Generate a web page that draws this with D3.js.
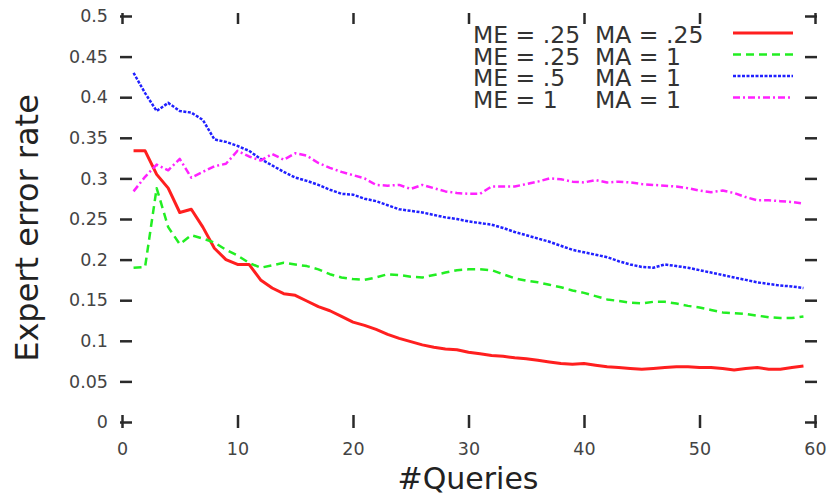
<!DOCTYPE html>
<html>
<head>
<meta charset="utf-8">
<script src="https://cdn.jsdelivr.net/npm/d3@7"></script>
<style>
  html, body { margin: 0; padding: 0; background: #fff; }
  svg { display: block; font-family: "DejaVu Sans", sans-serif; }
</style>
</head>
<body>
<div id="chart"></div>
<script>
// x = number of queries (1..59)
const queries = d3.range(1, 60);

const redVals = [0.334, 0.334, 0.305, 0.288, 0.258, 0.262, 0.240, 0.214, 0.200, 0.194,
  0.194, 0.175, 0.165, 0.158, 0.156, 0.149, 0.142, 0.137, 0.130, 0.123,
  0.119, 0.114, 0.108, 0.103, 0.099, 0.095, 0.092, 0.090, 0.089, 0.086,
  0.084, 0.082, 0.081, 0.079, 0.078, 0.076, 0.074, 0.072, 0.071, 0.072,
  0.070, 0.068, 0.067, 0.066, 0.065, 0.066, 0.067, 0.068, 0.068, 0.067,
  0.067, 0.066, 0.064, 0.066, 0.067, 0.065, 0.065, 0.067, 0.069];

const greenVals = [0.190, 0.191, 0.288, 0.240, 0.219, 0.230, 0.226, 0.221, 0.212, 0.205,
  0.196, 0.190, 0.193, 0.196, 0.194, 0.192, 0.188, 0.182, 0.178, 0.176,
  0.175, 0.178, 0.182, 0.181, 0.179, 0.178, 0.181, 0.184, 0.187, 0.188,
  0.188, 0.187, 0.182, 0.177, 0.174, 0.172, 0.169, 0.166, 0.162, 0.159,
  0.155, 0.151, 0.149, 0.147, 0.146, 0.148, 0.148, 0.146, 0.143, 0.141,
  0.138, 0.135, 0.134, 0.133, 0.131, 0.129, 0.128, 0.128, 0.130];

const blueVals = [0.430, 0.405, 0.383, 0.393, 0.383, 0.381, 0.372, 0.348, 0.345, 0.340,
  0.334, 0.324, 0.316, 0.308, 0.301, 0.297, 0.292, 0.286, 0.281, 0.280,
  0.275, 0.272, 0.267, 0.262, 0.260, 0.258, 0.255, 0.252, 0.250, 0.247,
  0.245, 0.243, 0.239, 0.234, 0.230, 0.226, 0.222, 0.217, 0.212, 0.209,
  0.206, 0.203, 0.198, 0.194, 0.191, 0.190, 0.194, 0.192, 0.190, 0.187,
  0.184, 0.181, 0.178, 0.175, 0.172, 0.170, 0.168, 0.167, 0.165];

const magentaVals = [0.284, 0.302, 0.317, 0.310, 0.324, 0.301, 0.308, 0.315, 0.318, 0.334,
  0.327, 0.322, 0.330, 0.323, 0.331, 0.328, 0.319, 0.313, 0.308, 0.304,
  0.300, 0.292, 0.291, 0.292, 0.287, 0.292, 0.288, 0.284, 0.282, 0.281,
  0.281, 0.290, 0.290, 0.290, 0.293, 0.296, 0.300, 0.299, 0.296, 0.295,
  0.298, 0.295, 0.296, 0.295, 0.293, 0.292, 0.291, 0.290, 0.288, 0.285,
  0.283, 0.285, 0.282, 0.277, 0.273, 0.273, 0.272, 0.271, 0.269];

const meLabels = ['ME = .25', 'ME = .25', 'ME = .5', 'ME = 1'];
const maLabels = ['MA = .25', 'MA = 1', 'MA = 1', 'MA = 1'];

const xTicks = [0, 10, 20, 30, 40, 50, 60];
const yTicks = [0, 0.05, 0.1, 0.15, 0.2, 0.25, 0.3, 0.35, 0.4, 0.45, 0.5];

const series = [
  { values: redVals, color: '#ff1f1f', width: 3, dash: null },
  { values: greenVals, color: '#22ee22', width: 2.5, dash: '8,5' },
  { values: blueVals, color: '#2020ff', width: 2.5, dash: '3,1.5' },
  { values: magentaVals, color: '#ff22ff', width: 2.5, dash: '7,3,2,3' },
];

const width = 831, height = 498;

const svg = d3.select('#chart')
  .append('svg')
  .attr('width', width)
  .attr('height', height);

const x = d3.scaleLinear().domain([0, 60]).range([122, 815]);
const y = d3.scaleLinear().domain([0, 0.5]).range([422, 16]);

const fmtY = d => d === 0 ? '0' : String(d);

// gnuplot style: ticks only, no border line
const tickColor = '#2a2a2a';

const leftAxis = svg.append('g')
  .attr('transform', 'translate(120,0)')
  .call(d3.axisLeft(y).tickValues(yTicks).tickSize(-12).tickPadding(12).tickFormat(fmtY));

const rightAxis = svg.append('g')
  .attr('transform', 'translate(817,0)')
  .call(d3.axisRight(y).tickValues(yTicks).tickSize(-12).tickFormat(''));

const bottomAxis = svg.append('g')
  .attr('transform', 'translate(0,428)')
  .call(d3.axisBottom(x).tickValues(xTicks).tickSize(-13).tickPadding(15));

const topAxis = svg.append('g')
  .attr('transform', 'translate(0,13)')
  .call(d3.axisTop(x).tickValues(xTicks).tickSize(-11).tickFormat(''));

[leftAxis, rightAxis, bottomAxis, topAxis].forEach(g => {
  g.select('.domain').remove();
  g.selectAll('.tick line').attr('stroke', tickColor).attr('stroke-width', 2.5);
  g.selectAll('.tick text')
    .attr('fill', '#444')
    .attr('font-size', '17.5px')
    .attr('font-family', '"DejaVu Sans", sans-serif');
});

// lines
const line = d3.line()
  .x((d, i) => x(queries[i]))
  .y(d => y(d));

svg.append('g')
  .selectAll('path')
  .data(series)
  .join('path')
  .attr('fill', 'none')
  .attr('stroke', d => d.color)
  .attr('stroke-width', d => d.width)
  .attr('stroke-dasharray', d => d.dash)
  .attr('stroke-linejoin', 'round')
  .attr('d', d => line(d.values));

// legend
const rowY = i => 43 + i * 21.5;
const legend = svg.append('g')
  .attr('font-size', '23.5px')
  .attr('fill', '#333');

legend.selectAll('text.me')
  .data(meLabels)
  .join('text')
  .attr('class', 'me')
  .attr('x', 473)
  .attr('y', (d, i) => rowY(i))
  .text(d => d);

legend.selectAll('text.ma')
  .data(maLabels)
  .join('text')
  .attr('class', 'ma')
  .attr('x', 595)
  .attr('y', (d, i) => rowY(i))
  .text(d => d);

legend.selectAll('line')
  .data(series)
  .join('line')
  .attr('x1', 733)
  .attr('x2', 793)
  .attr('y1', (d, i) => rowY(i) - 10)
  .attr('y2', (d, i) => rowY(i) - 10)
  .attr('stroke', d => d.color)
  .attr('stroke-width', d => d.width)
  .attr('stroke-dasharray', d => d.dash);

// axis titles
svg.append('text')
  .attr('transform', 'translate(38,228) rotate(-90)')
  .attr('text-anchor', 'middle')
  .attr('font-size', '32px')
  .attr('fill', '#222')
  .text('Expert error rate');

svg.append('text')
  .attr('x', 468)
  .attr('y', 489)
  .attr('text-anchor', 'middle')
  .attr('font-size', '30px')
  .attr('fill', '#222')
  .text('#Queries');
</script>
</body>
</html>
